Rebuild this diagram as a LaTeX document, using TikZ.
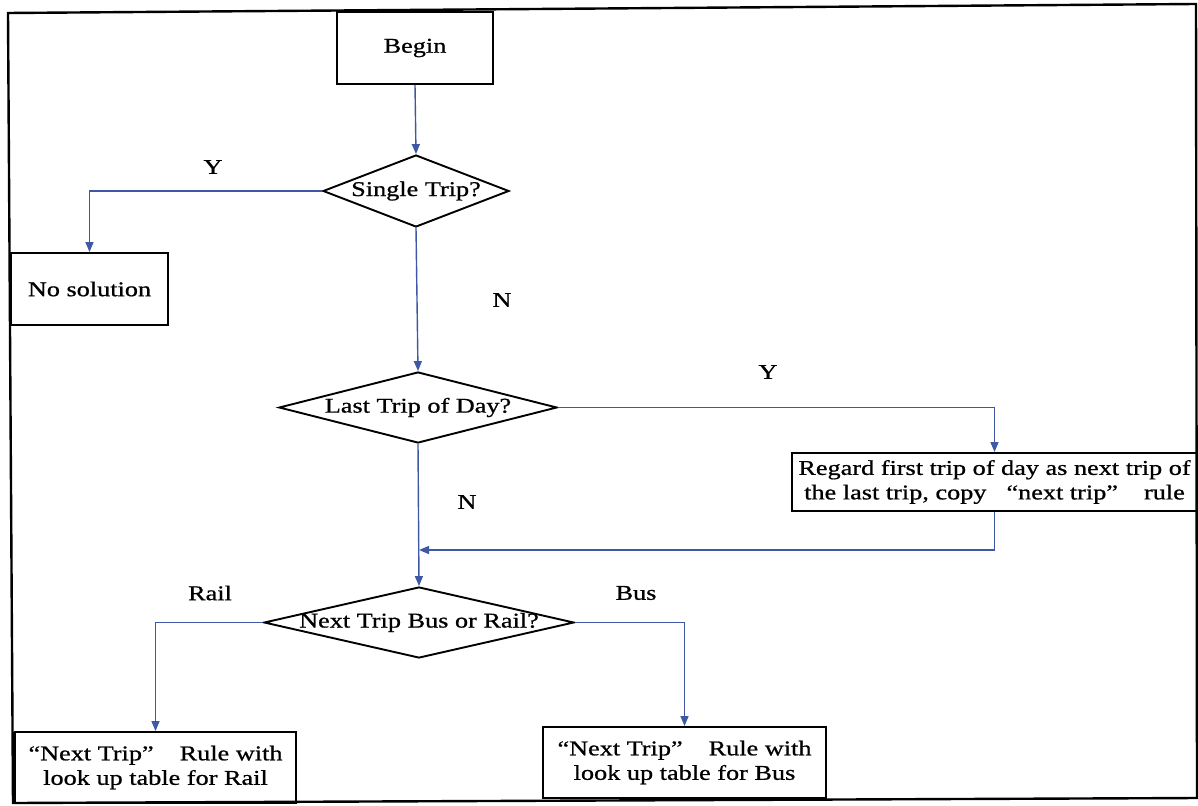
\documentclass[tikz,border=0pt]{standalone}
\usepackage{fontspec}
\setmainfont{Liberation Serif}[FakeStretch=1.25,FakeBold=0.8]
\usetikzlibrary{arrows.meta,shapes.geometric}
\definecolor{linkblue}{RGB}{62,88,165}
\begin{document}
\begin{tikzpicture}[x=1pt,y=-1pt,
  every node/.style={font=\fontsize{21}{24.5}\selectfont, text=black},
  boxnode/.style={draw=black, line width=1.9pt, rectangle, inner sep=0pt, align=center},
  dianode/.style={draw=black, line width=1.9pt, diamond, inner sep=0pt},
  txtnode/.style={inner sep=0pt, align=center},
  link/.style={draw=linkblue, line width=1.4pt, -{Triangle[length=10pt,width=8pt]}},
  plainlink/.style={draw=linkblue, line width=1.4pt}]
\useasboundingbox (0,0) rectangle (1198,805);
% outer frame
\draw[line width=2.4pt] (8,13) -- (1196,4) -- (1197,798) -- (13,803) -- cycle;

% nodes
\node[boxnode, minimum width=156pt, minimum height=72pt] (begin) at (415,48) {Begin};
\node[dianode, minimum width=186pt, minimum height=72pt] (d1) at (416,191) {};
\node[txtnode] (d1t) at (d1.center) {Single Trip?};
\node[boxnode, minimum width=157pt, minimum height=72pt] (nosol) at (89.5,289) {No solution};
\node[dianode, minimum width=278pt, minimum height=71pt] (d2) at (418,407.5) {};
\node[txtnode] (d2t) at (d2.center) {Last Trip of Day?};
\node[boxnode, minimum width=405pt, minimum height=58pt] (reg) at (994.5,482)
  {Regard first trip of day as next trip of\\the last trip, copy\hspace{20pt}“next trip”\hspace{26pt}rule};
\node[dianode, minimum width=310pt, minimum height=71pt] (d3) at (419,622.5) {};
\node[txtnode] (d3t) at (d3.center) {Next Trip Bus or Rail?};
\node[boxnode, minimum width=281pt, minimum height=71pt] (rail) at (155.5,767.5)
  {“Next Trip”\hspace{26pt}Rule with\\look up table for Rail};
\node[boxnode, minimum width=283pt, minimum height=71pt] (bus) at (684.5,762.5)
  {“Next Trip”\hspace{26pt}Rule with\\look up table for Bus};

% labels
\node[txtnode] (ly1) at (213,167) {Y};
\node[txtnode] (ln1) at (502,300) {N};
\node[txtnode] (ly2) at (768,372) {Y};
\node[txtnode] (ln2) at (467,502) {N};
\node[txtnode] (lrail) at (210,593) {Rail};
\node[txtnode] (lbus) at (636,593) {Bus};

% connectors
\coordinate (join) at (419,550);
\draw[link] (begin.south) -- (d1.north);
\draw[link] (d1.west) -| (nosol.north);
\draw[link] (d1.south) -- (d2.north);
\draw[link] (d2.east) -| (reg.north);
\draw[link] (d2.south) -- (d3.north);
\draw[link] (reg.south) |- (join);
\draw[link] (d3.west) -| (rail.north);
\draw[link] (d3.east) -| (bus.north);
\end{tikzpicture}
\end{document}
